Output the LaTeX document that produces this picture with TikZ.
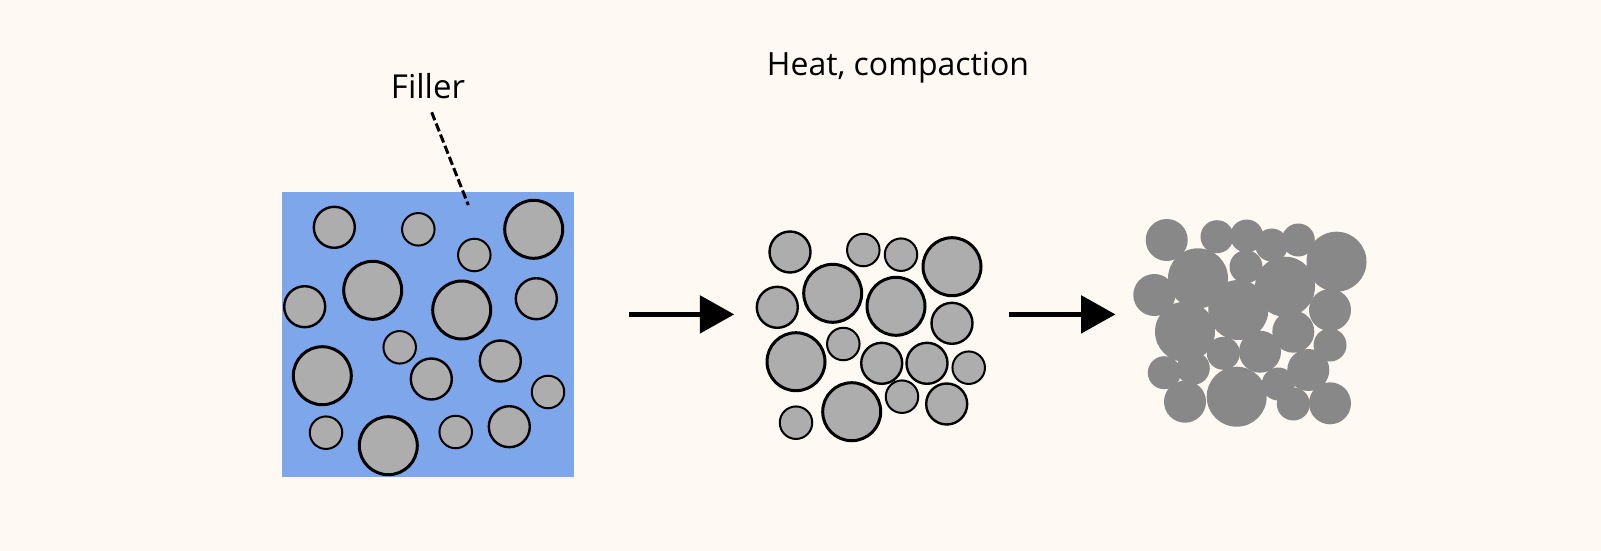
\documentclass[tikz,border=0pt]{standalone}
\usepackage{fontspec}
\setmainfont{Open Sans}
\usetikzlibrary{arrows.meta}
\definecolor{bgc}{HTML}{FEF9F2}
\definecolor{bluef}{HTML}{7EA6EA}
\definecolor{grayf}{HTML}{ADADAD}
\definecolor{darkg}{HTML}{888888}
\tikzset{
  pL/.style={circle,draw=black,fill=grayf,line width=3pt,minimum size=58pt,inner sep=0pt},
  pM/.style={circle,draw=black,fill=grayf,line width=2.4pt,minimum size=41pt,inner sep=0pt},
  pS/.style={circle,draw=black,fill=grayf,line width=2pt,minimum size=32.5pt,inner sep=0pt},
  dL/.style={circle,fill=darkg,minimum size=60pt,inner sep=0pt},
  dM/.style={circle,fill=darkg,minimum size=42pt,inner sep=0pt},
  dS/.style={circle,fill=darkg,minimum size=33pt,inner sep=0pt},
  flow/.style={line width=5.5pt,-{Triangle[length=34.5pt,width=37pt]}},
  lbl/.style={font=\fontsize{33}{40}\selectfont,inner sep=0pt,anchor=base},
}
\begin{document}
\begin{tikzpicture}[x=1pt,y=-1pt]
\fill[bgc] (0,0) rectangle (1601,551);
\useasboundingbox (0,0) rectangle (1601,551);
% matrix block
\node[fill=bluef,minimum width=292pt,minimum height=285pt,inner sep=0pt] (block) at (428,334.3) {};
% panel 1
\node[pM] (a1) at (334.3,227.3) {};
\node[pS] (a2) at (418.3,229.3) {};
\node[pS] (a3) at (474.3,255) {};
\node[pL] (a4) at (533.7,229.3) {};
\node[pL] (a5) at (372.7,290.3) {};
\node[pM] (a6) at (304.7,306.7) {};
\node[pL] (a7) at (461.7,310) {};
\node[pM] (a8) at (536.3,298.7) {};
\node[pS] (a9) at (399.7,347.3) {};
\node[pL] (a10) at (322.3,375.7) {};
\node[pM] (a11) at (431.3,379) {};
\node[pM] (a12) at (500.3,361) {};
\node[pS] (a13) at (548,392) {};
\node[pS] (a14) at (326,432.7) {};
\node[pL] (a15) at (388.3,445.7) {};
\node[pS] (a16) at (455.7,432) {};
\node[pM] (a17) at (509.3,426.7) {};
% panel 2
\node[pM] (b1) at (790,252) {};
\node[pS] (b2) at (863.3,250) {};
\node[pS] (b3) at (901,254.7) {};
\node[pL] (b4) at (952,266.7) {};
\node[pL] (b5) at (832.7,293.3) {};
\node[pM] (b6) at (777.3,307.3) {};
\node[pL] (b7) at (896,306.3) {};
\node[pM] (b8) at (952,323.3) {};
\node[pS] (b9) at (843.3,344) {};
\node[pL] (b10) at (796,361.7) {};
\node[pM] (b11) at (881.7,363.3) {};
\node[pM] (b12) at (927,363.3) {};
\node[pS] (b13) at (968.7,367.7) {};
\node[pS] (b14) at (796,422.7) {};
\node[pL] (b15) at (851.7,411.7) {};
\node[pS] (b16) at (902,396.7) {};
\node[pM] (b17) at (946.7,404) {};
% panel 3
\node[dM] (c1) at (1166.7,240) {};
\node[dS] (c2) at (1217,236.7) {};
\node[dS] (c3) at (1246.7,236) {};
\node[dS] (c4) at (1271.7,245) {};
\node[dS] (c5) at (1298.3,240) {};
\node[dL] (c6) at (1336.5,261.7) {};
\node[dL] (c7) at (1198,278.3) {};
\node[dM] (c8) at (1154.3,295) {};
\node[dS] (c9) at (1246,266.7) {};
\node[dL] (c10) at (1285,286.7) {};
\node[dL] (c11) at (1238.3,310) {};
\node[dM] (c12) at (1330,310) {};
\node[dL] (c13) at (1185,331.7) {};
\node[dM] (c14) at (1293.3,331.7) {};
\node[dS] (c15) at (1330,345) {};
\node[dM] (c16) at (1260,351.7) {};
\node[dS] (c17) at (1223.3,353.3) {};
\node[dS] (c18) at (1164.3,372.7) {};
\node[dS] (c19) at (1193.3,368.3) {};
\node[dM] (c20) at (1308.3,370) {};
\node[dS] (c21) at (1278.3,384) {};
\node[dM] (c22) at (1185,401.7) {};
\node[dL] (c23) at (1236.7,396.7) {};
\node[dS] (c24) at (1293.3,404) {};
\node[dM] (c25) at (1330,403.3) {};
% labels
\node[lbl] (filler) at (428,99) {Filler};
\node[lbl,font=\fontsize{32}{38}\selectfont] (heat) at (898,75) {Heat, compaction};
% leader
\coordinate (fa) at (431.7,112.3);
\coordinate (fb) at (468.3,205);
\draw[line width=3pt,dash pattern=on 8.5pt off 3.5pt] (fa) -- (fb);
% arrows
\coordinate (s1) at (629.3,314.4);
\coordinate (e1) at (734.3,314.4);
\coordinate (s2) at (1008.7,314.4);
\coordinate (e2) at (1115.5,314.4);
\draw[flow] (s1) -- (e1);
\draw[flow] (s2) -- (e2);
\end{tikzpicture}
\end{document}
